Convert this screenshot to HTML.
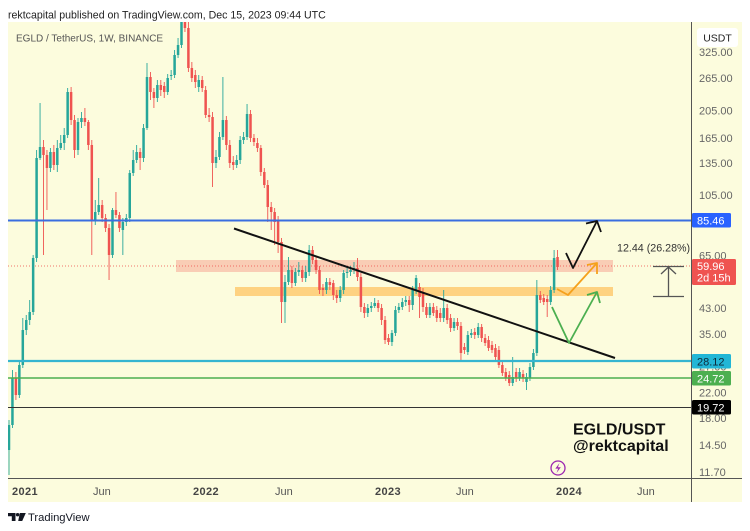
<!DOCTYPE html>
<html><head><meta charset="utf-8">
<style>
html,body{margin:0;padding:0;background:#fff;}
body{width:750px;height:531px;overflow:hidden;position:relative;font-family:"Liberation Sans",Arial,sans-serif;}
svg{position:absolute;left:0;top:0;}
</style></head><body>
<svg id="s" width="750" height="531" viewBox="0 0 750 531" xmlns="http://www.w3.org/2000/svg" font-family="Liberation Sans, Arial, sans-serif">
<defs><clipPath id="cp"><rect x="8" y="22" width="683.5" height="456"/></clipPath></defs>
<rect x="0" y="0" width="750" height="531" fill="#ffffff"/>
<rect x="8" y="22" width="734" height="480" fill="#fcfcdd"/>
<text x="8" y="18.5" font-size="10.6" fill="#222">rektcapital published on TradingView.com, Dec 15, 2023 09:44 UTC</text>

<g clip-path="url(#cp)">
  <line x1="8" y1="266" x2="691" y2="266" stroke="#ef5350" stroke-width="1" stroke-dasharray="1,2" opacity="0.8"/>
  <rect x="176" y="260" width="437" height="12" fill="#ef5350" fill-opacity="0.28"/>
  <rect x="235" y="287" width="378" height="9" fill="#ffa726" fill-opacity="0.5"/>
  <g id="c"></g>
  <line x1="8" y1="220.5" x2="691" y2="220.5" stroke="#3a6ee0" stroke-width="2"/>
  <line x1="8" y1="361" x2="691" y2="361" stroke="#35b5d0" stroke-width="2.2"/>
  <line x1="8" y1="378" x2="691" y2="378" stroke="#4caf50" stroke-width="1.5"/>
  <line x1="8" y1="407.5" x2="691" y2="407.5" stroke="#333" stroke-width="1"/>
  <line x1="234" y1="228.5" x2="615" y2="358" stroke="#111" stroke-width="2"/>
  <!-- black arrow -->
  <polyline points="566,253 573,268 597,221" fill="none" stroke="#111" stroke-width="1.8" stroke-linejoin="round"/>
  <polyline points="586,223.5 597,221 601,232" fill="none" stroke="#111" stroke-width="1.8" stroke-linejoin="round"/>
  <!-- orange arrow -->
  <polyline points="557,289 568,295 597,263" fill="none" stroke="#f5a11c" stroke-width="1.8" stroke-linejoin="round"/>
  <polyline points="587,265 597,263 597,274" fill="none" stroke="#f5a11c" stroke-width="1.8" stroke-linejoin="round"/>
  <!-- green arrow -->
  <polyline points="552,307 569,343 597,292" fill="none" stroke="#4caf50" stroke-width="1.8" stroke-linejoin="round"/>
  <polyline points="587,295 597,292 600,303" fill="none" stroke="#4caf50" stroke-width="1.8" stroke-linejoin="round"/>
  <!-- measure -->
  <line x1="653" y1="266.5" x2="684" y2="266.5" stroke="#555" stroke-width="1.3"/>
  <line x1="653" y1="296.5" x2="684" y2="296.5" stroke="#555" stroke-width="1.3"/>
  <line x1="668.5" y1="267" x2="668.5" y2="296" stroke="#555" stroke-width="1.3"/>
  <polyline points="661,274 668.5,267 676,274" fill="none" stroke="#555" stroke-width="1.3"/>
  <text x="617" y="251.5" font-size="10.7" fill="#333">12.44 (26.28%)</text>
</g>

<text x="16" y="41.5" font-size="10" fill="#555">EGLD / TetherUS, 1W, BINANCE</text>

<text x="573" y="434.5" font-size="16" font-weight="bold" fill="#111">EGLD/USDT</text>
<text x="573" y="451" font-size="16" font-weight="bold" fill="#111">@rektcapital</text>

<circle cx="558" cy="468" r="7" fill="none" stroke="#9c27b0" stroke-width="1.3"/>
<path d="M559.5,463 L555.3,468.6 L558.2,468.6 L556.5,473 L560.8,467.3 L557.9,467.3 Z" fill="#9c27b0"/>

<!-- axes -->
<line x1="691.5" y1="22" x2="691.5" y2="502" stroke="#555" stroke-width="1"/>
<line x1="8" y1="478.5" x2="742" y2="478.5" stroke="#555" stroke-width="1"/>

<g font-size="11" fill="#666">
<text x="699" y="56">325.00</text>
<text x="699" y="82">265.00</text>
<text x="699" y="114.5">205.00</text>
<text x="699" y="142">165.00</text>
<text x="699" y="167">135.00</text>
<text x="699" y="199">105.00</text>
<text x="699" y="259.5">65.00</text>
<text x="699" y="312">43.00</text>
<text x="699" y="338">35.00</text>
<text x="699" y="370.5">27.00</text>
<text x="699" y="396.5">22.00</text>
<text x="699" y="422">18.00</text>
<text x="699" y="449">14.50</text>
<text x="699" y="476">11.70</text>
</g>

<rect x="697" y="28" width="41" height="19" rx="3" fill="#ffffff"/>
<text x="717.5" y="41.5" font-size="10.5" fill="#222" text-anchor="middle">USDT</text>

<rect x="692" y="213" width="39" height="14.5" rx="1.5" fill="#2962ff"/>
<text x="697" y="224.5" font-size="11" fill="#fff">85.46</text>

<rect x="692" y="259" width="44" height="26" rx="1.5" fill="#ef5350"/>
<text x="697" y="270" font-size="11" fill="#fff">59.96</text>
<text x="697" y="281.5" font-size="11" fill="#fff">2d 15h</text>

<rect x="692" y="354" width="39" height="14.5" rx="1.5" fill="#22b6d6"/>
<text x="697" y="365.5" font-size="11" fill="#0d2a3a">28.12</text>

<rect x="692" y="371" width="39" height="14.5" rx="1.5" fill="#4caf50"/>
<text x="697" y="382.5" font-size="11" fill="#fff">24.72</text>

<rect x="692" y="400" width="39" height="14.5" rx="1.5" fill="#000"/>
<text x="697" y="411.5" font-size="11" fill="#fff">19.72</text>

<g font-size="11" fill="#555">
<text x="12" y="495" font-weight="bold" letter-spacing="0.4" fill="#444">2021</text>
<text x="93" y="495">Jun</text>
<text x="193" y="495" font-weight="bold" letter-spacing="0.4" fill="#444">2022</text>
<text x="275" y="495">Jun</text>
<text x="375" y="495" font-weight="bold" letter-spacing="0.4" fill="#444">2023</text>
<text x="456" y="495">Jun</text>
<text x="556" y="495" font-weight="bold" letter-spacing="0.4" fill="#444">2024</text>
<text x="637" y="495">Jun</text>
</g>

<!-- TradingView logo -->
<polygon points="8,513 15.5,513 15.5,521 11.8,521 11.8,516.2 8,516.2" fill="#131722"/>
<circle cx="17.6" cy="514.7" r="1.7" fill="#131722"/>
<polygon points="19.8,513 25.8,513 22.2,521 18.2,521" fill="#131722"/>
<text x="28" y="520.8" font-size="11.2" fill="#131722">TradingView</text>
</svg>

<script>
var D=[
[450,425,420,475],[425,378,370,428],[378,395,372,400],[395,365,360,398],[365,330,318,368],
[330,320,315,335],[320,312,300,325],[312,258,255,315],[258,158,150,262],[158,147,103,160],
[147,155,140,255],[155,168,150,210],[168,152,148,172],[152,165,145,170],[165,148,140,172],
[148,143,135,150],[143,135,128,150],[135,92,88,138],[92,120,87,125],[120,150,115,158],
[150,122,118,155],[122,118,112,128],[118,122,108,126],[122,145,120,150],[145,220,140,255],
[220,212,200,225],[212,205,178,215],[205,218,200,222],[218,228,214,232],[228,255,224,280],
[255,210,208,258],[210,215,192,218],[215,228,212,232],[230,222,218,255],[222,218,214,226],
[218,173,170,222],[173,160,150,176],[160,152,145,163],[152,158,148,170],[158,128,124,162],
[128,77,63,130],[77,92,72,100],[92,98,88,108],[98,85,80,102],[85,90,80,96],
[86,92,82,98],[92,78,74,95],[76,75,70,80],[75,55,50,78],[55,45,38,58],
[45,5,-20,48],[5,28,-20,32],[28,68,22,72],[68,78,62,82],[75,82,70,88],
[87,80,75,92],[80,88,76,92],[90,115,86,118],[115,117,108,122],[117,163,112,187],
[163,157,150,168],[157,137,132,160],[137,120,77,140],[120,145,116,150],[145,163,140,168],
[162,165,156,170],[165,160,155,168],[160,140,136,164],[140,137,132,144],[137,114,104,140],
[114,138,110,142],[138,142,134,146],[143,148,138,152],[148,172,145,176],[172,185,168,188],
[185,207,180,222],[207,212,202,230],[212,222,208,245],[220,242,216,253],[242,302,238,323],
[302,282,275,323],[282,270,257,285],[270,283,266,288],[283,272,268,286],[272,270,262,276],
[270,278,266,282],[278,272,266,282],[272,250,245,276],[250,260,246,264],[260,270,256,274],
[270,290,266,294],[288,290,284,296],[290,282,278,294],[282,285,278,290],[283,295,280,300],
[295,298,290,303],[298,290,286,302],[290,273,270,294],[273,272,268,278],[272,270,266,276],
[270,268,262,274],[268,277,258,281],[277,307,273,312],[307,313,303,318],[313,308,304,317],
[308,306,302,312],[306,303,298,308],[303,308,300,312],[308,320,304,325],[320,340,316,344],
[338,342,334,345],[342,333,330,346],[333,310,306,336],[310,307,303,313],[307,302,298,310],
[302,300,296,306],[300,305,296,312],[305,290,286,310],[290,278,275,294],[287,297,283,318],
[292,307,288,312],[307,315,303,318],[315,307,303,318],[307,313,303,316],[310,318,306,322],
[313,318,308,322],[318,308,290,322],[308,320,304,324],[318,328,314,332],[328,322,318,331],
[322,326,318,330],[326,353,322,360],[347,350,343,354],[352,335,331,355],[335,333,329,338],
[332,335,328,339],[335,327,323,338],[327,338,324,342],[338,343,334,346],[340,348,336,351],
[345,350,341,353],[348,357,344,360],[350,365,346,368],[365,373,361,376],[372,378,368,381],
[375,383,371,386],[383,377,357,386],[372,378,368,382],[378,372,368,381],[374,378,370,382],
[382,377,373,390],[378,367,363,381],[367,353,349,370],[353,295,280,356],[295,300,291,303],
[298,302,294,305],[299,302,295,317],[302,290,286,305],[290,258,250,293],[257,267,250,270]
];
(function(){
var NS="http://www.w3.org/2000/svg";
var g=document.getElementById('c');
for(var i=0;i<D.length;i++){
  var d=D[i],x=9+i*3.45,o=d[0],c=d[1],h=d[2],l=d[3];
  var col=(c<=o)?'#26a69a':'#ef5350';
  var ln=document.createElementNS(NS,'line');
  ln.setAttribute('x1',x.toFixed(2));ln.setAttribute('x2',x.toFixed(2));
  ln.setAttribute('y1',h);ln.setAttribute('y2',l);
  ln.setAttribute('stroke',col);ln.setAttribute('stroke-width','0.9');
  g.appendChild(ln);
  var r=document.createElementNS(NS,'rect');
  var top=Math.min(o,c),bh=Math.max(Math.abs(o-c),1);
  r.setAttribute('x',(x-1.25).toFixed(2));r.setAttribute('y',top);
  r.setAttribute('width','2.5');r.setAttribute('height',bh);
  r.setAttribute('fill',col);
  g.appendChild(r);
}
})();
</script>
</body></html>
